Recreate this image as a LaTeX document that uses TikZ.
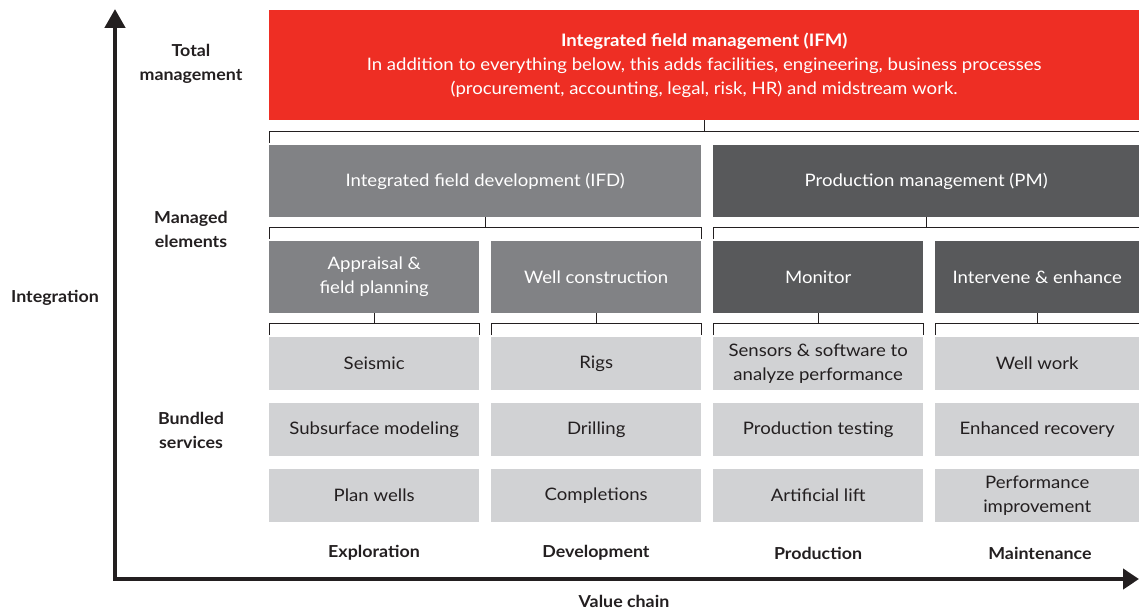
\documentclass[tikz,border=0pt]{standalone}
\usepackage{fontspec}
\setmainfont{Lato}[FakeStretch=1.08]
\usetikzlibrary{arrows.meta}
\definecolor{ifmred}{HTML}{EE2E24}
\definecolor{midgray}{HTML}{818285}
\definecolor{darkgray}{HTML}{58595B}
\definecolor{lightgray}{HTML}{D1D2D4}
\definecolor{ink}{HTML}{231F20}
\newcommand\brkt[4]{%
  \draw[brk] (#1.south) -- ++(0,#4) coordinate (tmp#1);
  \draw[brk] ([yshift=2pt]#2.north west) -- (#2.north west |- tmp#1) -- (#3.north east |- tmp#1) -- ([yshift=2pt]#3.north east);
}
\begin{document}
\begin{tikzpicture}[x=1pt,y=-1pt,
  every node/.style={font=\fontsize{17.2}{24}\selectfont, inner sep=0pt},
  boxbase/.style={anchor=north west, align=center, draw=none},
  redbox/.style={boxbase, fill=ifmred, text=white},
  midbox/.style={boxbase, fill=midgray, text=white},
  darkbox/.style={boxbase, fill=darkgray, text=white},
  lightbox/.style={boxbase, fill=lightgray, text=ink, minimum height=53pt},
  catlabel/.style={font=\fontsize{16.5}{24}\selectfont\bfseries, text=ink, align=center},
  brk/.style={draw=ink, line width=1pt},
  axis/.style={draw=ink, line width=4.5pt, line join=miter}
]
\useasboundingbox (0,0) rectangle (1139,610);

% axes
\coordinate (ytop) at (115,9);
\coordinate (origin) at (115,579);
\coordinate (xend) at (1139,579);
\draw[axis, {Triangle[length=19pt,width=20pt]}-{Triangle[length=16pt,width=20pt]}] (ytop) -- (origin) -- (xend);

% top level
\node[redbox, minimum width=870pt, minimum height=110pt] (ifm) at (269,10)
  {{\bfseries Integrated field management (IFM)}\\
   In addition to everything below, this adds facilities, engineering, business processes\\
   (procurement, accounting, legal, risk, HR) and midstream work.};

% managed elements
\node[midbox, minimum width=432pt, minimum height=72pt] (ifd) at (269,145) {Integrated field development (IFD)};
\node[darkbox, minimum width=426pt, minimum height=72pt] (pm) at (713,145) {Production management (PM)};

\node[midbox, minimum width=210pt, minimum height=72pt] (app) at (269,241) {Appraisal \&\\field planning};
\node[midbox, minimum width=210pt, minimum height=72pt] (wc) at (491,241) {Well construction};
\node[darkbox, minimum width=210pt, minimum height=72pt] (mon) at (713,241) {Monitor};
\node[darkbox, minimum width=204pt, minimum height=72pt] (int) at (935,241) {Intervene \& enhance};

% bundled services
\node[lightbox, minimum width=210pt] (s11) at (269,337) {Seismic};
\node[lightbox, minimum width=210pt] (s12) at (491,337) {Rigs};
\node[lightbox, minimum width=210pt] (s13) at (713,337) {Sensors \& software to\\analyze performance};
\node[lightbox, minimum width=204pt] (s14) at (935,337) {Well work};

\node[lightbox, minimum width=210pt] (s21) at (269,403) {Subsurface modeling};
\node[lightbox, minimum width=210pt] (s22) at (491,403) {Drilling};
\node[lightbox, minimum width=210pt] (s23) at (713,403) {Production testing};
\node[lightbox, minimum width=204pt] (s24) at (935,403) {Enhanced recovery};

\node[lightbox, minimum width=210pt] (s31) at (269,469) {Plan wells};
\node[lightbox, minimum width=210pt] (s32) at (491,469) {Completions};
\node[lightbox, minimum width=210pt] (s33) at (713,469) {Artificial lift};
\node[lightbox, minimum width=204pt] (s34) at (935,469) {Performance\\improvement};

% brackets
\brkt{ifm}{ifd}{pm}{11}
\brkt{ifd}{app}{wc}{10}
\brkt{pm}{mon}{int}{10}
\brkt{app}{s11}{s11}{10}
\brkt{wc}{s12}{s12}{10}
\brkt{mon}{s13}{s13}{10}
\brkt{int}{s14}{s14}{10}

% category labels
\node[catlabel] (ltot) at (191,64) {Total\\management};
\node[catlabel] (lman) at (191,229) {Managed\\elements};
\node[catlabel] (lbun) at (191,430) {Bundled\\services};
\node[catlabel] (lint) at (55,298) {Integration};
\node[catlabel] (lval) at (624,601) {Value chain};

\node[catlabel] (cexp) at (374,553) {Exploration};
\node[catlabel] (cdev) at (596,553) {Development};
\node[catlabel] (cpro) at (818,553) {Production};
\node[catlabel] (cmai) at (1040,553) {Maintenance};
\end{tikzpicture}
\end{document}
